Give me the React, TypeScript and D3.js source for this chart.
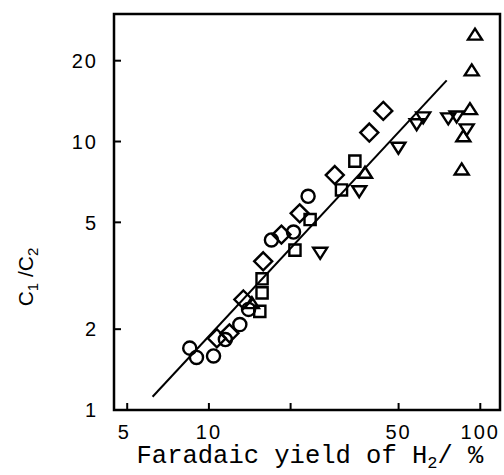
import React from 'react';
import * as d3 from 'd3';

const width = 504;
const height = 475;
const frame = { left: 114, right: 500, top: 14, bottom: 410 };

// series: [faradaic yield of H2 (%), C1/C2]
const circles = [
	[8.5, 1.7], [9.0, 1.57], [10.4, 1.59], [11.5, 1.83], [13.0, 2.08],
	[14.0, 2.37], [17.0, 4.3], [20.5, 4.6], [23.2, 6.25]
];
const diamonds = [
	[10.7, 1.85], [11.9, 1.93], [13.4, 2.58], [15.85, 3.58], [18.5, 4.5],
	[21.6, 5.4], [29.1, 7.5], [39.0, 10.8], [43.9, 13.0]
];
const squares = [
	[15.4, 2.33], [15.7, 2.73], [15.7, 3.08], [20.75, 3.94], [23.6, 5.12],
	[30.8, 6.6], [34.5, 8.45]
];
const upTriangles = [
	[14.4, 2.5], [37.6, 7.65], [85.4, 7.87], [86.6, 10.46], [91.6, 13.2],
	[93.0, 18.4], [95.6, 25.0]
];
const downTriangles = [
	[25.7, 3.85], [35.8, 6.53], [49.9, 9.48], [58.3, 11.6], [61.6, 12.3],
	[76.2, 12.2], [81.8, 12.4], [89.1, 11.1]
];
const fitLine = [[6.2, 1.12], [75.2, 16.9]];

const xTicks = [5, 10, 20, 50, 100];
const xTickLabels = [5, 10, 50, 100];
const yTicks = [1, 2, 5, 10, 20];

const x = d3.scaleLog().domain([4.47, 118.2]).range([frame.left, frame.right]);
const y = d3.scaleLog().domain([1, 29.85]).range([frame.bottom, frame.top]);

const sym = (type, size) => d3.symbol().type(type).size(size)();

const circlePath = sym(d3.symbolCircle, 135);
const squarePath = sym(d3.symbolSquare, 125);
const diamondPath = d3.line()([[0, -9], [9, 0], [0, 9], [-9, 0]]) + 'Z';
const upPath = d3.line()([[0, -6], [7, 5], [-7, 5]]) + 'Z';
const downPath = d3.line()([[0, 6], [7, -5], [-7, -5]]) + 'Z';

const series = [
	{ data: circles, path: circlePath },
	{ data: diamonds, path: diamondPath },
	{ data: squares, path: squarePath },
	{ data: upTriangles, path: upPath },
	{ data: downTriangles, path: downPath }
];

const sans = 'Liberation Sans, Arial, sans-serif';
const mono = 'Liberation Mono, Courier New, monospace';

export default function App() {
	return (
		<svg width={width} height={height} style={{ position: 'absolute', left: 0, top: 0, background: '#fff' }}>
			<path d={d3.line()(fitLine.map(d => [x(d[0]), y(d[1])]))} stroke="#000" strokeWidth={2} fill="none" />
			{series.map((s, i) =>
				s.data.map((d, j) => (
					<path
						key={i + '-' + j}
						d={s.path}
						transform={`translate(${x(d[0])},${y(d[1])})`}
						fill="none"
						stroke="#000"
						strokeWidth={2.4}
					/>
				))
			)}
			<rect
				x={frame.left}
				y={frame.top}
				width={frame.right - frame.left}
				height={frame.bottom - frame.top}
				fill="none"
				stroke="#000"
				strokeWidth={2.5}
			/>
			{xTicks.map(t => (
				<line key={t} x1={x(t)} x2={x(t)} y1={frame.bottom} y2={frame.bottom - 7} stroke="#000" strokeWidth={2} />
			))}
			{yTicks.map(t => (
				<line key={t} x1={frame.left} x2={frame.left + 7} y1={y(t)} y2={y(t)} stroke="#000" strokeWidth={2} />
			))}
			{xTickLabels.map(t => (
				<text key={t} x={x(t) - (t === 5 ? 3 : 0)} y={439} textAnchor="middle" fontFamily={sans} fontSize={20} letterSpacing={2}>
					{t}
				</text>
			))}
			{yTicks.map(t => (
				<text key={t} x={98} y={y(t)} dy="0.36em" textAnchor="end" fontFamily={sans} fontSize={20} letterSpacing={2}>
					{t}
				</text>
			))}
			<text x={310} y={463} textAnchor="middle" fontFamily={mono} fontSize={25.5}>
				Faradaic yield of H<tspan fontSize={17} dy={5}>2</tspan>
				<tspan dy={-5}>/ %</tspan>
			</text>
			<text transform="translate(33,277) rotate(-90)" textAnchor="middle" fontFamily={sans} fontSize={21}>
				C<tspan fontSize={15} dy={5}>1</tspan>
				<tspan dy={-5}> /C</tspan>
				<tspan fontSize={15} dy={5}>2</tspan>
			</text>
		</svg>
	);
}
